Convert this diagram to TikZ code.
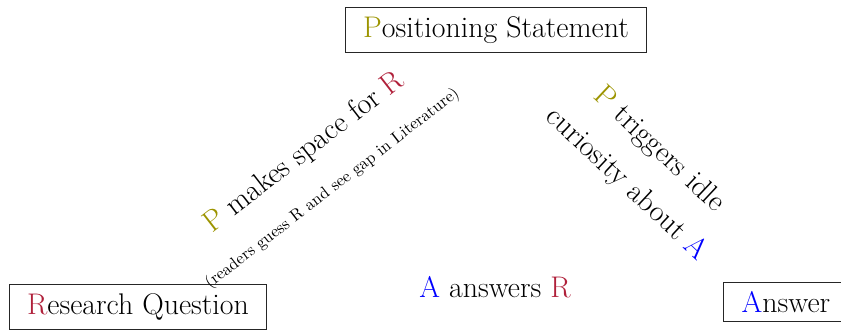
\documentclass[tikz,border=0pt]{standalone}
\usepackage{xcolor}
\begin{document}
\begin{tikzpicture}[x=0.02cm,y=-0.02cm]
    % Define colours
    \definecolor{posColour}{HTML}{9C9400}
    \definecolor{resColour}{HTML}{B0203A}
    \definecolor{ansColour}{HTML}{0000FF}

    % Define styles
    \tikzset{
        box/.style={draw=black!85, semithick, inner xsep=10pt, inner ysep=5pt, font=\fontsize{17}{21}\selectfont},
        big/.style={font=\fontsize{17}{21}\selectfont, align=center},
        small/.style={font=\fontsize{9.5}{11}\selectfont}
    }

    % Fix the picture size
    \useasboundingbox (0,0) rectangle (841,329);

    % Place the three boxes
    \node[box] (PS) at (496,30) {\textcolor{posColour}{P}ositioning Statement};
    \node[box, anchor=west] (RQ) at (9,307) {\textcolor{resColour}{R}esearch Question};
    \node[box, anchor=west, minimum width=2.5cm] (AN) at (723,302) {\textcolor{ansColour}{A}nswer};

    % Labels on the links (links are not drawn)
    \path (RQ) -- node[big, sloped]
        {\textcolor{posColour}{P} makes space for \textcolor{resColour}{R}\\[3pt]
         {\fontsize{9.5}{11}\selectfont (readers guess R and see gap in Literature)}} (PS);
    \path (PS) -- node[big, sloped]
        {\textcolor{posColour}{P} triggers idle\\[6pt] curiosity about \textcolor{ansColour}{A}} (AN);
    \path (RQ) -- node[big, above]
        {\textcolor{ansColour}{A} answers \textcolor{resColour}{R}} (AN);

\end{tikzpicture}
\end{document}
